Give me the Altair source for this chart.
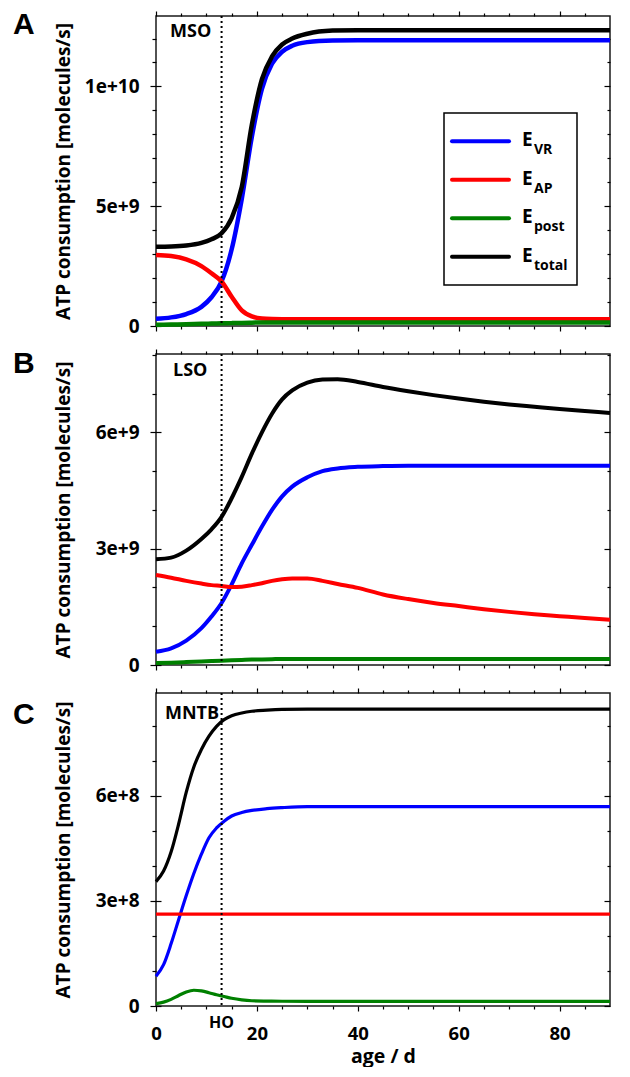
import altair as alt
import pandas as pd

SERIES = ["VR", "AP", "post", "total"]
COLORS = ["#0000ff", "#ff0000", "#008000", "#000000"]
FONT = "Open Sans"

# ---------------- Panel A : MSO (values in 1e9 molecules/s) ----------------
a_age = [0, 3, 6, 9, 11, 13, 15, 17, 19, 21, 23, 25, 27, 30, 35, 40, 50, 60, 70, 80, 90]
a_vr = [0.30, 0.36, 0.50, 0.80, 1.20, 1.86, 3.20, 5.30, 7.90, 9.90, 10.95, 11.45, 11.70, 11.85,
        11.92, 11.93, 11.93, 11.93, 11.93, 11.93, 11.93]
a_ap = [2.96, 2.92, 2.78, 2.50, 2.20, 1.86, 1.22, 0.65, 0.40, 0.31, 0.29, 0.285, 0.285, 0.285,
        0.285, 0.285, 0.285, 0.285, 0.285, 0.285, 0.285]
a_post = [0.05, 0.06, 0.07, 0.09, 0.10, 0.11, 0.12, 0.13, 0.14, 0.145, 0.15, 0.15, 0.15, 0.15,
          0.15, 0.15, 0.15, 0.15, 0.15, 0.15, 0.15]
a_total = [3.31, 3.32, 3.36, 3.47, 3.62, 3.87, 4.50, 5.80, 8.40, 10.30, 11.25, 11.75, 12.00, 12.20,
           12.33, 12.35, 12.35, 12.35, 12.35, 12.35, 12.35]

# ---------------- Panel B : LSO (values in 1e9 molecules/s) ----------------
b_age = [0, 3, 6, 9, 11, 13, 15, 17, 19, 21, 23, 25, 27, 30, 33, 36, 40, 45, 50, 55, 60, 65, 70, 75, 80, 85, 90]
b_vr = [0.34, 0.43, 0.63, 0.95, 1.25, 1.60, 2.08, 2.62, 3.10, 3.57, 4.00, 4.35, 4.60, 4.84, 5.00, 5.07,
        5.11, 5.13, 5.14, 5.14, 5.14, 5.14, 5.14, 5.14, 5.14, 5.14, 5.14]
b_ap = [2.32, 2.25, 2.17, 2.10, 2.06, 2.04, 2.01, 2.02, 2.06, 2.11, 2.17, 2.21, 2.23, 2.23, 2.17, 2.09,
        1.99, 1.82, 1.70, 1.60, 1.52, 1.44, 1.37, 1.31, 1.26, 1.21, 1.17]
b_post = [0.05, 0.06, 0.075, 0.09, 0.10, 0.11, 0.12, 0.13, 0.14, 0.145, 0.15, 0.155, 0.155, 0.155, 0.155,
          0.155, 0.155, 0.155, 0.155, 0.155, 0.155, 0.155, 0.155, 0.155, 0.155, 0.155, 0.155]
b_total = [2.73, 2.77, 2.95, 3.25, 3.50, 3.82, 4.30, 4.85, 5.45, 6.00, 6.48, 6.85, 7.08, 7.28, 7.36, 7.37,
           7.30, 7.17, 7.06, 6.96, 6.87, 6.79, 6.72, 6.66, 6.60, 6.55, 6.50]

# ---------------- Panel C : MNTB (values in 1e8 molecules/s) ----------------
c_age = [0, 1.5, 3, 4.5, 6, 7.5, 9, 10.5, 12, 13.5, 15, 17, 19, 22, 25, 30, 40, 60, 90]
c_vr = [0.85, 1.18, 1.78, 2.47, 3.15, 3.78, 4.33, 4.80, 5.08, 5.27, 5.42, 5.52, 5.58, 5.63, 5.66, 5.69,
        5.69, 5.69, 5.69]
c_ap = [2.62, 2.62, 2.62, 2.62, 2.62, 2.62, 2.62, 2.62, 2.62, 2.62, 2.62, 2.62, 2.62, 2.62, 2.62, 2.62,
        2.62, 2.62, 2.62]
c_post = [0.07, 0.11, 0.19, 0.30, 0.40, 0.45, 0.43, 0.38, 0.32, 0.27, 0.22, 0.175, 0.15, 0.14, 0.135, 0.13,
          0.13, 0.13, 0.13]
c_total = [3.55, 3.85, 4.40, 5.20, 6.10, 6.82, 7.32, 7.70, 7.98, 8.17, 8.28, 8.36, 8.41, 8.44, 8.46, 8.47,
           8.47, 8.47, 8.47]

HO_AGE = 13
X_MAJOR = [0, 20, 40, 60, 80]
X_MINOR = [5, 10, 15, 25, 30, 35, 45, 50, 55, 65, 70, 75, 85]

LEG_SUBS = ["VR", "AP", "post", "total"]

W = 454
COLOR_SCALE = alt.Scale(domain=SERIES, range=COLORS)


def build_panel(age, vr, ap, post, total, unit, ymax, y_major, y_minor, region, region_x, region_y,
                letter, letter_y, height, lw, bottom=False, legend=False):
    rows = []
    for name, vals in zip(SERIES, [vr, ap, post, total]):
        for a, v in zip(age, vals):
            rows.append({"age": a, "value": v * unit, "series": name})
    df = pd.DataFrame(rows)
    xs = alt.Scale(domain=[0, 90], nice=False, zero=False)
    ys = alt.Scale(domain=[0, ymax], nice=False, zero=True)
    base = alt.Chart(df)

    common = dict(grid=False, domain=False, tickColor="black", tickWidth=1.2)
    ghostkw = dict(labels=False, title=None, minExtent=0, maxExtent=0, **common)
    xkw = dict(orient="bottom", values=X_MAJOR, tickSize=5, labels=bottom, labelFlush=False,
               labelFont=FONT, labelFontSize=18.5, labelFontWeight="bold", labelColor="black",
               labelPadding=13, **common)
    if bottom:
        xkw.update(title="age / d", titleFont=FONT, titleFontSize=19.5, titleFontWeight="bold",
                   titleColor="black", titlePadding=5)
    else:
        xkw.update(title=None, minExtent=0, maxExtent=0)
    x_main = alt.Axis(**xkw)
    y_main = alt.Axis(orient="left", values=y_major, offset=-5, tickSize=11,
                      labelExpr="datum.value == 0 ? '0' : format(datum.value, '.0e')",
                      labelFont=FONT, labelFontSize=19, labelFontWeight="bold", labelColor="black",
                      labelPadding=11, title="ATP consumption [molecules/s]", titleFont=FONT,
                      titleFontSize=19, titleFontWeight="bold", titleColor="black", titlePadding=8,
                      minExtent=80, maxExtent=80, **common)

    lines = base.mark_line(strokeWidth=lw, interpolate="monotone").encode(
        x=alt.X("age:Q", scale=xs, axis=x_main),
        y=alt.Y("value:Q", scale=ys, axis=y_main),
        color=alt.Color("series:N", scale=COLOR_SCALE, legend=None),
    )

    def ghost(xaxis, yaxis):
        return base.mark_point(opacity=0).encode(
            x=alt.X("age:Q", scale=xs, axis=xaxis),
            y=alt.Y("value:Q", scale=ys, axis=yaxis),
        )

    g1 = ghost(alt.Axis(orient="bottom", values=X_MINOR, tickSize=3, **ghostkw),
               alt.Axis(orient="left", values=y_minor, tickSize=4, **ghostkw))
    g2 = ghost(alt.Axis(orient="top", values=X_MAJOR, tickSize=5, **ghostkw),
               alt.Axis(orient="right", values=y_major, offset=-6, tickSize=6, **ghostkw))
    g3 = ghost(alt.Axis(orient="top", values=X_MINOR, tickSize=3, **ghostkw),
               alt.Axis(orient="right", values=y_minor, offset=-3, tickSize=3, **ghostkw))

    ho_df = pd.DataFrame({"age": [HO_AGE], "label": ["HO"]})
    rule = alt.Chart(ho_df).mark_rule(color="black", strokeWidth=2, strokeDash=[2, 3]).encode(
        x=alt.X("age:Q", scale=xs, axis=None))

    reg = alt.Chart(pd.DataFrame({"t": [region]})).mark_text(
        align="left", baseline="alphabetic", font=FONT, fontSize=18, fontWeight="bold", color="black"
    ).encode(text="t:N", x=alt.value(region_x), y=alt.value(region_y))

    let = alt.Chart(pd.DataFrame({"t": [letter]})).mark_text(
        align="left", baseline="alphabetic", font="Liberation Sans", fontSize=30, fontWeight="bold",
        color="black"
    ).encode(text="t:N", x=alt.value(-143), y=alt.value(letter_y))

    layers = [lines, g1, g2, g3, rule, reg, let]

    if bottom:
        ho = alt.Chart(ho_df).mark_text(
            align="center", baseline="alphabetic", font=FONT, fontSize=16, fontWeight="bold", color="black"
        ).encode(text="label:N", x=alt.X("age:Q", scale=xs, axis=None), y=alt.value(height + 22))
        layers.append(ho)

    if legend:
        leg = pd.DataFrame({"series": SERIES, "sub": LEG_SUBS, "idx": [0, 1, 2, 3]})
        box = alt.Chart(pd.DataFrame({"k": [0]})).mark_rect(
            fill="white", stroke="black", strokeWidth=1.5
        ).encode(x=alt.value(288), x2=alt.value(421), y=alt.value(97), y2=alt.value(269))
        lbase = alt.Chart(leg).transform_calculate(
            ly="125.3 + 38.5 * datum.idx",
            ey="125.3 + 38.5 * datum.idx + 5",
            sy="125.3 + 38.5 * datum.idx + 13",
        )
        lsym = lbase.mark_rule(strokeWidth=4, strokeCap="round").encode(
            x=alt.value(296), x2=alt.value(353),
            y=alt.Y("ly:Q", scale=None, axis=None),
            color=alt.Color("series:N", scale=COLOR_SCALE, legend=None),
        )
        le = lbase.mark_text(align="left", baseline="alphabetic", font=FONT, fontSize=19,
                             fontWeight="bold", color="black").encode(
            x=alt.value(366), y=alt.Y("ey:Q", scale=None, axis=None), text=alt.value("E"))
        ls = lbase.mark_text(align="left", baseline="alphabetic", font=FONT, fontSize=14,
                             fontWeight="bold", color="black").encode(
            x=alt.value(378), y=alt.Y("sy:Q", scale=None, axis=None), text="sub:N")
        layers += [box, lsym, le, ls]

    return alt.layer(*layers).resolve_axis(x="independent", y="independent").properties(
        width=W, height=height)


pA = build_panel(a_age, a_vr, a_ap, a_post, a_total, 1e9, 1.294e10,
                 [0, 5e9, 1e10], [1e9, 2e9, 3e9, 4e9, 6e9, 7e9, 8e9, 9e9, 11e9, 12e9],
                 "MSO", 14, 21, "A", 18, 310, 4.5, legend=True)
pB = build_panel(b_age, b_vr, b_ap, b_post, b_total, 1e9, 8.02e9,
                 [0, 3e9, 6e9], [1e9, 2e9, 4e9, 5e9, 7e9, 8e9],
                 "LSO", 17, 22, "B", 19, 311, 4.0)
pC = build_panel(c_age, c_vr, c_ap, c_post, c_total, 1e8, 8.93e8,
                 [0, 3e8, 6e8], [1e8, 2e8, 4e8, 5e8, 7e8, 8e8],
                 "MNTB", 9, 26, "C", 31, 313, 3.2, bottom=True)

chart = alt.vconcat(pA, pB, pC, spacing=10).properties(
    padding={"left": 4, "top": 1, "right": 0, "bottom": 0}
).configure_view(stroke="#1a1a1a", strokeWidth=1.5)

chart.save("out.html", embed_options={"renderer": "svg", "actions": False})
